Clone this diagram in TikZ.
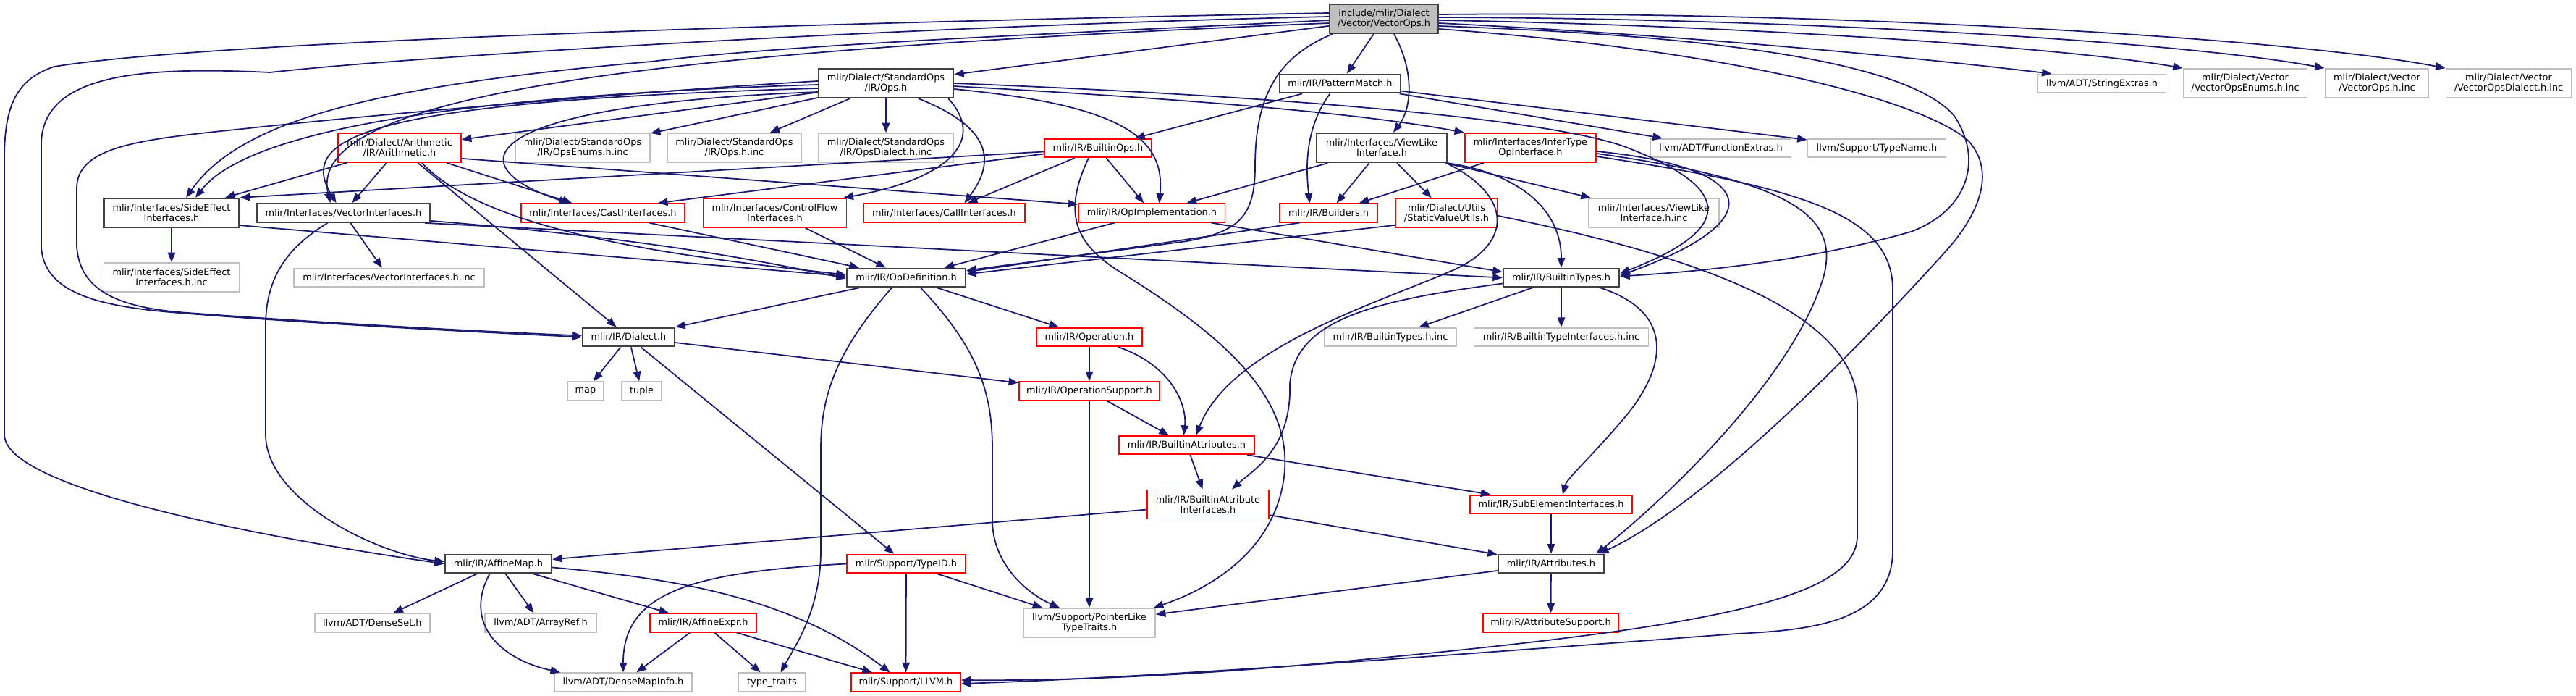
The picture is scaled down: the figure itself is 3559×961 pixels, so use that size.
\documentclass[tikz,border=0pt]{standalone}
\usepackage{fontspec}
\setmainfont{DejaVu Sans}
\usetikzlibrary{arrows.meta,calc}
\definecolor{edgec}{HTML}{191970}
\definecolor{boxblk}{HTML}{404040}
\definecolor{boxgry}{HTML}{BFBFBF}
\definecolor{boxred}{HTML}{FF0000}
\begin{document}
\begin{tikzpicture}[x=0.01cm,y=-0.01cm,
  nb/.style={rectangle, inner sep=0pt, align=center, font=\fontsize{3.66pt}{3.98pt}\selectfont, text=black},
  blk/.style={nb, draw=boxblk, line width=0.65pt},
  rootn/.style={blk, fill=boxgry},
  rd/.style={nb, draw=boxred, line width=0.5pt},
  gy/.style={nb, draw=boxgry, line width=0.5pt},
  one/.style={minimum height=2.55mm},
  two/.style={minimum height=4mm},
  w/.style={minimum width=#1mm},
  e/.style={draw=edgec, line width=0.5pt, -{Triangle[length=1.35mm,width=1.05mm]}}]
\fill[white] (0,0) rectangle (3559,961);
\path[use as bounding box] (0,0) rectangle (3559,961);
% ---------- nodes ----------
\node[rootn,two,w=15]   (T)    at (1912,26)    {include/mlir/Dialect\\/Vector/VectorOps.h};
\node[blk,two,w=18.6]   (OpsH) at (1224,115)   {mlir/Dialect/StandardOps\\/IR/Ops.h};
\node[blk,one,w=16.7]   (PM)   at (1851.5,115.5) {mlir/IR/PatternMatch.h};
\node[gy,one,w=17.7]    (SX)   at (2904,115.5) {llvm/ADT/StringExtras.h};
\node[gy,two,w=17.1]    (VEI)  at (3102,115)   {mlir/Dialect/Vector\\/VectorOpsEnums.h.inc};
\node[gy,two,w=14.3]    (VOI)  at (3284,115)   {mlir/Dialect/Vector\\/VectorOps.h.inc};
\node[gy,two,w=17.3]    (VDI)  at (3466,115)   {mlir/Dialect/Vector\\/VectorOpsDialect.h.inc};
\node[rd,two,w=17]      (Ar)   at (552,204)    {mlir/Dialect/Arithmetic\\/IR/Arithmetic.h};
\node[gy,two,w=18.6]    (OEI)  at (805,204)    {mlir/Dialect/StandardOps\\/IR/OpsEnums.h.inc};
\node[gy,two,w=18.5]    (OII)  at (1014.5,204) {mlir/Dialect/StandardOps\\/IR/Ops.h.inc};
\node[gy,two,w=18.6]    (ODI)  at (1224,204)   {mlir/Dialect/StandardOps\\/IR/OpsDialect.h.inc};
\node[rd,one,w=14.8]    (BO)   at (1517,204.5) {mlir/IR/BuiltinOps.h};
\node[blk,two,w=18]     (VL)   at (1909,204)   {mlir/Interfaces/ViewLike\\Interface.h};
\node[rd,two,w=18.1]    (IT)   at (2114.5,204) {mlir/Interfaces/InferType\\OpInterface.h};
\node[gy,one,w=19.4]    (FE)   at (2377.5,204.5) {llvm/ADT/FunctionExtras.h};
\node[gy,one,w=19.1]    (TN)   at (2593,204.5) {llvm/Support/TypeName.h};
\node[blk,two,w=18.7]   (SEf)  at (237,294)    {mlir/Interfaces/SideEffect\\Interfaces.h};
\node[blk,one,w=23.9]   (VI)   at (474.5,294)  {mlir/Interfaces/VectorInterfaces.h};
\node[rd,one,w=22.6]    (CI)   at (833,294)    {mlir/Interfaces/CastInterfaces.h};
\node[rd,two,w=19.8]    (CF)   at (1070.5,294) {mlir/Interfaces/ControlFlow\\Interfaces.h};
\node[rd,one,w=22.3]    (CaI)  at (1304.5,294) {mlir/Interfaces/CallInterfaces.h};
\node[rd,one,w=20.2]    (OI)   at (1591.5,294) {mlir/IR/OpImplementation.h};
\node[rd,one,w=13.5]    (Bu)   at (1835.5,294) {mlir/IR/Builders.h};
\node[rd,two,w=14.1]    (SVU)  at (1998.5,294) {mlir/Dialect/Utils\\/StaticValueUtils.h};
\node[gy,two,w=18]      (VLI)  at (2285,294)   {mlir/Interfaces/ViewLike\\Interface.h.inc};
\node[gy,two,w=18.7]    (SEI)  at (237,383)    {mlir/Interfaces/SideEffect\\Interfaces.h.inc};
\node[gy,one,w=26.3]    (VII)  at (537.5,383.5) {mlir/Interfaces/VectorInterfaces.h.inc};
\node[blk,one,w=16.4]   (OD)   at (1252,383.5) {mlir/IR/OpDefinition.h};
\node[blk,one,w=16]     (BT)   at (2157,383.5) {mlir/IR/BuiltinTypes.h};
\node[blk,one,w=12.7]   (Di)   at (868.5,465.5) {mlir/IR/Dialect.h};
\node[rd,one,w=14.6]    (Op)   at (1505,465.5) {mlir/IR/Operation.h};
\node[gy,one,w=18.2]    (BTI)  at (1921,465.5) {mlir/IR/BuiltinTypes.h.inc};
\node[gy,one,w=24.1]    (BTII) at (2157,465.5) {mlir/IR/BuiltinTypeInterfaces.h.inc};
\node[gy,one,w=5]       (map)  at (809,540)    {map};
\node[gy,one,w=5.5]     (tup)  at (886.5,540)  {tuple};
\node[rd,one,w=19.4]    (OS)   at (1505,540)   {mlir/IR/OperationSupport.h};
\node[rd,one,w=18.7]    (BA)   at (1639.5,614.5) {mlir/IR/BuiltinAttributes.h};
\node[rd,two,w=16.8]    (BAI)  at (1669,696.5) {mlir/IR/BuiltinAttribute\\Interfaces.h};
\node[rd,one,w=22.4]    (SubEI) at (2143,696.5) {mlir/IR/SubElementInterfaces.h};
\node[blk,one,w=14.7]   (AM)   at (688.5,778.5) {mlir/IR/AffineMap.h};
\node[rd,one,w=16.4]    (TID)  at (1252,778.5) {mlir/Support/TypeID.h};
\node[blk,one,w=14.6]   (At)   at (2143,778.5) {mlir/IR/Attributes.h};
\node[gy,one,w=15.9]    (DS)   at (514.3,860)  {llvm/ADT/DenseSet.h};
\node[gy,one,w=15.4]    (AR)   at (747,860)    {llvm/ADT/ArrayRef.h};
\node[rd,one,w=14.7]    (AE)   at (971.5,860)  {mlir/IR/AffineExpr.h};
\node[gy,two,w=18.2]    (PL)   at (1505,860)   {llvm/Support/PointerLike\\TypeTraits.h};
\node[rd,one,w=18.7]    (AS)   at (2142.5,860) {mlir/IR/AttributeSupport.h};
\node[gy,one,w=19]      (DMI)  at (861,942)    {llvm/ADT/DenseMapInfo.h};
\node[gy,one,w=9.3]     (TT)   at (1066.5,942) {type\_traits};
\node[rd,one,w=15.1]    (LL)   at (1251.5,942) {mlir/Support/LLVM.h};
% ---------- edges from the root ----------
\draw[e] (T) -- (OpsH);
\draw[e] (T) -- (PM);
\draw[e] ($(T.south)+(14,0)$) .. controls (1955,100) and (1950,150) .. ($(VL.north)+(16,0)$);
\draw[e] ($(T.east)+(0,6)$) .. controls (2350,50) and (2650,80) .. ($(SX.north west)+(20,0)$);
\draw[e] ($(T.east)+(0,2)$) .. controls (2400,35) and (2850,65) .. (VEI.north west);
\draw[e] ($(T.east)+(0,-2)$) .. controls (2450,25) and (3000,55) .. (VOI.north west);
\draw[e] ($(T.east)+(0,-6)$) .. controls (2500,15) and (3150,50) .. (VDI.north west);
\draw[e] ($(T.west)+(0,-8)$) .. controls (1200,30) and (300,55) .. (75,92)
   .. controls (20,110) and (6,150) .. (6,220) -- (6,600)
   .. controls (6,690) and (520,765) .. (AM.west);
\draw[e] ($(T.west)+(0,-3)$) .. controls (1300,35) and (600,75) .. (373,100)
   .. controls (200,92) and (57,100) .. (57,200) -- (57,340)
   .. controls (60,410) and (150,425) .. (260,433)
   .. controls (450,448) and (650,458) .. (Di.west);
\draw[e] ($(T.west)+(0,2)$) .. controls (1500,45) and (1100,60) .. (900,85)
   .. controls (500,120) and (330,170) .. ($(SEf.north)+(20,0)$);
\draw[e] ($(T.west)+(0,6)$) .. controls (900,70) and (420,130) .. ($(VI.north)+(-18,0)$);
\draw[e] ($(T.south west)+(5,0)$) .. controls (1760,80) and (1734,140) .. (1734,230)
   .. controls (1734,300) and (1710,320) .. (1640,333) -- ($(OD.east)+(0,-10)$);
\draw[e] ($(T.east)+(0,10)$) .. controls (2400,50) and (2640,90) .. (2700,160)
   .. controls (2740,220) and (2720,290) .. (2640,320)
   .. controls (2500,360) and (2350,375) .. ($(BT.east)+(0,-2)$);
\draw[e] ($(T.east)+(0,14)$) .. controls (2400,70) and (2660,140) .. (2720,195)
   .. controls (2760,240) and (2730,300) .. (2690,345)
   .. controls (2550,500) and (2350,700) .. ($(At.north east)+(-8,0)$);
% ---------- StandardOps/IR/Ops.h ----------
\draw[e] (OpsH) -- (Ar);
\draw[e] (OpsH) -- (OEI);
\draw[e] (OpsH) -- (OII);
\draw[e] (OpsH) -- (ODI);
\draw[e] ($(OpsH.west)+(0,2)$) .. controls (700,130) and (350,170) .. ($(SEf.north)+(33,0)$);
\draw[e] ($(OpsH.west)+(0,7)$) .. controls (500,140) and (410,190) .. ($(VI.north)+(-10,0)$);
\draw[e] ($(OpsH.west)+(0,-3)$) .. controls (900,125) and (500,160) .. (344,177)
   .. controls (200,192) and (106,200) .. (106,260) -- (106,340)
   .. controls (110,400) and (160,425) .. (260,432)
   .. controls (450,446) and (650,457) .. ($(Di.west)+(0,-2)$);
\draw[e] ($(OpsH.west)+(0,12)$) .. controls (650,145) and (630,230) .. ($(CI.north)+(-47,0)$);
\draw[e] ($(OpsH.south east)+(-8,0)$) .. controls (1360,190) and (1320,245) .. ($(CF.north east)+(-5,0)$);
\draw[e] ($(OpsH.south)+(45,0)$) .. controls (1380,180) and (1370,230) .. ($(CaI.north)+(28,0)$);
\draw[e] ($(OpsH.east)+(0,8)$) .. controls (1550,145) and (1610,190) .. ($(OI.north)+(10,0)$);
\draw[e] ($(OpsH.east)+(0,4)$) .. controls (1700,140) and (1900,160) .. (IT.north west);
\draw[e] ($(OpsH.east)+(0,0)$) .. controls (1700,130) and (2150,160) .. (2256,207)
   .. controls (2390,260) and (2400,315) .. ($(BT.east)+(0,-6)$);
% ---------- PatternMatch ----------
\draw[e] (PM) -- (BO);
\draw[e] ($(PM.south)+(-14,0)$) .. controls (1800,180) and (1805,240) .. ($(Bu.north)+(-26,0)$);
\draw[e] (PM) -- (FE);
\draw[e] (PM) -- (TN);
% ---------- ViewLike ----------
\draw[e] (VL) -- (Bu);
\draw[e] (VL) -- (SVU);
\draw[e] (VL) -- (VLI);
\draw[e] (VL) -- (OI);
\draw[e] (VL.south east) .. controls (2100,240) and (2157,290) .. (BT.north);
\draw[e] ($(VL.south east)+(-2,0)$) .. controls (2090,270) and (2090,335) .. (2010,372)
   .. controls (1900,420) and (1700,480) .. ($(BA.north)+(13,0)$);
% ---------- InferType ----------
\draw[e] (IT) -- (Bu);
\draw[e] ($(IT.east)+(0,5)$) .. controls (2420,230) and (2460,300) .. ($(BT.east)+(0,-3)$);
\draw[e] ($(IT.east)+(0,8)$) .. controls (2480,250) and (2540,300) .. (2520,380)
   .. controls (2480,520) and (2300,690) .. ($(At.north east)+(-12,0)$);
\draw[e] ($(IT.east)+(0,12)$) .. controls (2500,260) and (2615,300) .. (2615,400) -- (2615,760)
   .. controls (2615,860) and (2500,870) .. (2400,875)
   .. controls (2000,905) and (1600,935) .. ($(LL.east)+(0,2)$);
% ---------- StaticValueUtils / Builders ----------
\draw[e] ($(SVU.east)+(0,4)$) .. controls (2300,345) and (2566,420) .. (2566,560) -- (2566,740)
   .. controls (2566,830) and (2350,870) .. (1780,920)
   .. controls (1600,935) and (1450,940) .. ($(LL.east)+(0,-3)$);
\draw[e] ($(SVU.south west)+(0,-4)$) -- ($(OD.east)+(0,-5)$);
\draw[e] ($(Bu.south)+(-40,0)$) -- ($(OD.east)+(0,-8)$);
% ---------- BuiltinOps ----------
\draw[e] ($(BO.west)+(0,5)$) -- (SEf.north east);
\draw[e] ($(BO.west)+(0,8)$) -- ($(CI.north east)+(-38,0)$);
\draw[e] (BO) -- (CaI);
\draw[e] (BO) -- (OI);
\draw[e] ($(BO.south)+(-13,0)$) .. controls (1465,300) and (1490,340) .. (1550,377)
   .. controls (1700,470) and (1800,560) .. (1770,680)
   .. controls (1750,760) and (1680,810) .. ($(PL.north east)+(-3,0)$);
% ---------- Arithmetic ----------
\draw[e] (Ar) -- (SEf);
\draw[e] (Ar) -- (VI);
\draw[e] (Ar) -- (Di);
\draw[e] (Ar) -- (CI);
\draw[e] ($(Ar.south east)+(0,-6)$) -- ($(OI.west)+(0,-12)$);
\draw[e] ($(Ar.south)+(31,0)$) .. controls (680,330) and (1000,360) .. ($(OD.west)+(0,-4)$);
% ---------- interfaces ----------
\draw[e] (SEf) -- (SEI);
\draw[e] ($(SEf.south east)+(0,-4)$) -- ($(OD.west)+(0,-2)$);
\draw[e] (VI) -- (VII);
\draw[e] ($(VI.south)+(-22,0)$) .. controls (400,340) and (367,380) .. (367,450) -- (367,600)
   .. controls (367,690) and (520,765) .. ($(AM.west)+(0,-3)$);
\draw[e] ($(VI.south east)+(0,-3)$) .. controls (900,330) and (1050,360) .. ($(OD.west)+(0,1)$);
\draw[e] ($(VI.south east)+(-8,0)$) -- (BT.west);
\draw[e] (CI) -- (OD);
\draw[e] (CF) -- (OD);
\draw[e] (OI) -- (OD);
\draw[e] ($(OI.south east)+(-20,0)$) -- ($(BT.west)+(0,-8)$);
% ---------- OpDefinition ----------
\draw[e] (OD) -- (Di);
\draw[e] (OD) -- (Op);
\draw[e] ($(OD.south)+(-20,0)$) .. controls (1160,480) and (1134,540) .. (1134,620) -- (1134,760)
   .. controls (1134,840) and (1100,890) .. ($(TT.north)+(12,0)$);
\draw[e] ($(OD.south)+(20,0)$) .. controls (1350,480) and (1371,540) .. (1371,620) -- (1371,720)
   .. controls (1372,780) and (1420,820) .. ($(PL.north)+(-41,0)$);
% ---------- Dialect / Operation ----------
\draw[e] (Di) -- (map);
\draw[e] (Di) -- (tup);
\draw[e] (Di) -- (OS);
\draw[e] (Di) -- (TID);
\draw[e] (Op) -- (OS);
\draw[e] ($(Op.south east)+(-34,0)$) .. controls (1620,505) and (1640,560) .. ($(BA.north)+(-4,0)$);
\draw[e] (OS) -- (BA);
\draw[e] (OS) -- (PL);
% ---------- BuiltinTypes ----------
\draw[e] (BT) -- (BTI);
\draw[e] (BT) -- (BTII);
\draw[e] ($(BT.west)+(0,8)$) .. controls (1900,415) and (1790,440) .. (1782,530)
   .. controls (1785,620) and (1730,650) .. ($(BAI.north)+(33,0)$);
\draw[e] ($(BT.south east)+(-27,0)$) .. controls (2310,430) and (2305,500) .. (2250,570)
   .. controls (2200,630) and (2165,660) .. ($(SubEI.north)+(16,0)$);
% ---------- attributes ----------
\draw[e] (BA) -- (BAI);
\draw[e] (BA) -- (SubEI);
\draw[e] (BAI) -- (AM);
\draw[e] (BAI) -- (At);
\draw[e] (SubEI) -- (At);
\draw[e] (At) -- (AS);
\draw[e] (At) -- (PL);
% ---------- AffineMap / TypeID / AffineExpr ----------
\draw[e] (AM) -- (DS);
\draw[e] (AM) -- (AR);
\draw[e] ($(AM.south)+(-12,0)$) .. controls (640,860) and (690,910) .. ($(DMI.north west)+(9,0)$);
\draw[e] (AM) -- (AE);
\draw[e] ($(AM.east)+(0,5)$) .. controls (950,800) and (1100,830) .. ($(LL.north)+(-22,0)$);
\draw[e] (TID.west) .. controls (950,790) and (861,820) .. (DMI.north);
\draw[e] (TID) -- (LL);
\draw[e] (TID) -- (PL);
\draw[e] (AE) -- (DMI);
\draw[e] (AE) -- (TT);
\draw[e] (AE) -- (LL);
\end{tikzpicture}
\end{document}
